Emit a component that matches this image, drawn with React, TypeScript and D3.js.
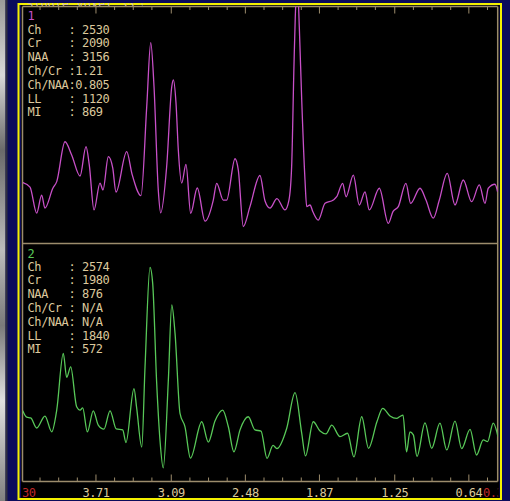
import React from "react";
import * as d3 from "d3";

// ---- data ----
const ppm1 = [4.311,4.253,4.198,4.157,4.130,4.064,4.033,3.965,3.910,3.841,3.792,3.765,3.726,3.677,3.652,3.608,3.572,3.545,3.457,3.413,3.339,3.292,3.259,3.232,3.197,3.177,3.128,3.086,3.073,3.051,3.032,3.004,2.969,2.930,2.876,2.812,2.744,2.716,2.662,2.634,2.565,2.538,2.497,2.442,2.360,2.318,2.277,2.220,2.154,2.121,2.099,2.080,2.069,2.051,2.036,2.016,1.989,1.975,1.948,1.923,1.880,1.824,1.756,1.728,1.679,1.651,1.591,1.542,1.495,1.460,1.377,1.303,1.265,1.221,1.158,1.119,1.042,0.993,0.933,0.883,0.818,0.754,0.686,0.617,0.554,0.507,0.480,0.425,0.403];
const amp1 = [25.6,23.7,12.7,20.3,14.8,23.3,26.0,42.9,37.3,28.4,40.8,33.1,14.0,25.4,22.5,36.6,31.8,21.6,38.7,29.2,20.1,57.8,84.9,66.2,22.5,12.8,32.3,66.2,69.1,59.3,39.4,25.4,33.3,12.6,23.3,9.3,18.2,25.3,18.2,18.2,35.7,30.9,7.0,15.4,28.6,17.8,14.8,18.8,14.0,18.2,32.3,74.7,95.9,109.3,91.7,60.6,26.7,15.4,16.1,13.1,9.7,16.8,18.2,19.6,25.3,19.6,28.8,16.1,21.7,14.0,23.2,8.3,13.3,15.4,25.3,16.8,23.2,18.2,10.5,18.2,29.5,16.1,26.7,17.5,24.6,16.8,23.2,24.9,21.7];

const ppm2 = [4.313,4.280,4.247,4.198,4.130,4.074,4.033,3.979,3.951,3.918,3.869,3.841,3.819,3.781,3.732,3.691,3.644,3.594,3.543,3.490,3.463,3.397,3.375,3.333,3.306,3.265,3.243,3.210,3.183,3.156,3.114,3.086,3.059,3.018,2.977,2.932,2.839,2.785,2.730,2.667,2.620,2.574,2.524,2.456,2.401,2.351,2.302,2.252,2.220,2.140,2.071,2.016,1.985,1.921,1.865,1.816,1.769,1.701,1.639,1.586,1.522,1.466,1.396,1.349,1.289,1.234,1.207,1.182,1.153,1.125,1.097,1.067,1.001,0.946,0.878,0.822,0.754,0.699,0.630,0.577,0.521,0.486,0.439,0.400];
const amp2 = [29.8,27.1,26.8,22.6,27.6,21.0,30.1,53.8,43.8,48.2,31.5,30.1,31.0,21.0,29.8,23.8,22.1,29.8,22.2,21.8,16.5,39.1,31.0,14.6,48.2,89.8,83.1,41.3,17.6,5.9,42.7,74.1,62.2,28.7,23.1,10.0,25.2,16.7,25.5,30.1,23.1,12.6,21.8,27.3,21.8,21.3,9.9,15.3,14.0,22.4,37.4,20.4,10.9,25.2,21.3,20.1,23.8,19.0,20.4,10.5,27.3,14.1,25.3,30.8,27.6,26.6,27.4,28.0,12.6,21.0,19.7,10.7,24.7,14.1,24.6,13.4,25.5,14.0,22.0,11.3,17.6,16.9,24.6,19.0];

const tickValues = [3.71, 3.09, 2.48, 1.87, 1.25, 0.64];
const tickLabels = ["3.71", "3.09", "2.48", "1.87", "1.25", "0.64"];
const edgeLabels = ["4.30", "0.33"];

const metricNames = ["Ch", "Cr", "NAA", "Ch/Cr", "Ch/NAA", "LL", "MI"];
const values1 = [" 2530", " 2090", " 3156", "1.21", "0.805", " 1120", " 869"];
const values2 = [" 2574", " 1980", " 876", " N/A", " N/A", " 1840", " 572"];
const headerText = "Single voxel  35 ms";

// ---- layout ----
const W = 510, H = 501;
const L = 22.5, R = 497.7, T = 6.5, MID = 243.5, B = 481.5;
const TAN = "#9c8c6c";
const TXT = "#dcc89c";
const MAG = "#c850c8";
const GRN = "#58c858";
const FONT = "'DejaVu Sans Mono', monospace";
const nb = (s: string) => s.replace(/ /g, "\u00A0");

export default function App() {
  const x = d3.scaleLinear().domain([4.3, 0.4]).range([24.3, 498]);
  const y1 = d3.scaleLinear().domain([0, 100]).range([243, 7]);
  const y2 = d3.scaleLinear().domain([0, 100]).range([482, 243]);

  const line1 = d3.line<number>().x((_, i) => x(ppm1[i])).y((d) => y1(d)).curve(d3.curveMonotoneX);
  const line2 = d3.line<number>().x((_, i) => x(ppm2[i])).y((d) => y2(d)).curve(d3.curveMonotoneX);

  const step = (tickValues[0] - tickValues[tickValues.length - 1]) / (tickValues.length - 1) / 4;
  const minor: number[] = [];
  for (let i = 1; i <= 3; i++) minor.push(tickValues[0] + step * i);
  for (let k = 0; k < tickValues.length - 1; k++)
    for (let i = 1; i <= 3; i++) minor.push(tickValues[k] - step * i);
  minor.push(tickValues[tickValues.length - 1] - step);

  const info = (num: string, col: string, vals: string[], y0: number, yFirst: number) => (
    <g fontFamily={FONT} fontSize={12} letterSpacing={-0.4}>
      <text x={27.5} y={y0} fill={col}>{num}</text>
      {metricNames.map((n, i) => (
        <text key={n} x={27.5} y={yFirst + i * 13.8} fill={TXT}>
          {nb(n.padEnd(6, " ") + ":" + vals[i])}
        </text>
      ))}
    </g>
  );

  return (
    <div style={{ position: "absolute", left: 0, top: 0 }}>
      <svg width={W} height={H} style={{ display: "block" }}>
        <defs>
          <linearGradient id="strip" x1="0" y1="0" x2="0" y2="1">
            <stop offset="0" stopColor="#9a9a9a" />
            <stop offset="0.15" stopColor="#d8d8d8" />
            <stop offset="0.3" stopColor="#6a6a6a" />
            <stop offset="0.5" stopColor="#bcbcbc" />
            <stop offset="0.65" stopColor="#7a7a7a" />
            <stop offset="0.8" stopColor="#e0e0e0" />
            <stop offset="1" stopColor="#808080" />
          </linearGradient>
          <clipPath id="c1"><rect x={L} y={T} width={R - L} height={MID - T} /></clipPath>
          <clipPath id="c2"><rect x={L} y={MID} width={R - L} height={B - MID} /></clipPath>
          <clipPath id="cax"><rect x={L} y={B} width={R - L + 0.5} height={18} /></clipPath>
          <clipPath id="chead"><rect x={L} y={3} width={120} height={4} /></clipPath>
        </defs>
        <rect x={0} y={0} width={W} height={H} fill="#0b0b5c" />
        <rect x={0} y={0} width={5.5} height={H} fill="url(#strip)" />
        <rect x={5.5} y={0} width={2} height={H} fill="#303040" />
        <rect x={21} y={5} width={478.5} height={493} fill="#000" />
        <rect x={18.5} y={4} width={482.5} height={495} fill="none" stroke="#f4f000" strokeWidth={2} />

        <g clipPath="url(#chead)">
          <text x={26} y={7.5} fill={TXT} fontFamily={FONT} fontSize={12}>{headerText}</text>
        </g>

        {/* frame lines */}
        <g stroke={TAN} strokeWidth={1.5} fill="none">
          <line x1={L} x2={L} y1={T} y2={B} />
          <line x1={R} x2={R} y1={T} y2={B} />
          <line x1={L} x2={R} y1={T} y2={T} />
          <line x1={L} x2={R} y1={MID} y2={MID} />
          <line x1={L} x2={R} y1={B} y2={B} />
        </g>

        {/* ticks */}
        <g stroke={TAN} strokeWidth={1}>
          {tickValues.map((t) => (
            <g key={"M" + t}>
              <line x1={x(t)} x2={x(t)} y1={B} y2={B - 7} />
              <line x1={x(t)} x2={x(t)} y1={T} y2={T + 7} />
            </g>
          ))}
          {minor.map((t) => (
            <g key={"m" + t}>
              <line x1={x(t)} x2={x(t)} y1={B} y2={B - 4} />
              <line x1={x(t)} x2={x(t)} y1={T} y2={T + 3.5} />
            </g>
          ))}
        </g>

        {/* spectra */}
        <path d={line1(amp1) || ""} fill="none" stroke={MAG} strokeWidth={1.3} clipPath="url(#c1)" />
        <path d={line2(amp2) || ""} fill="none" stroke={GRN} strokeWidth={1.3} clipPath="url(#c2)" />

        {info("1", MAG, values1, 20, 33.5)}
        {info("2", GRN, values2, 258, 270.5)}

        {/* axis labels */}
        <g fontFamily={FONT} fontSize={12} letterSpacing={-0.5}>
          {tickValues.map((t, i) => (
            <text key={t} x={x(t)} y={497} textAnchor="middle" fill={TXT}>{tickLabels[i]}</text>
          ))}
          <g clipPath="url(#cax)" fill="#c02828">
            <text x={35.5} y={497} textAnchor="end">{edgeLabels[0]}</text>
            <text x={483} y={497} textAnchor="start">{edgeLabels[1]}</text>
          </g>
        </g>
      </svg>
    </div>
  );
}
